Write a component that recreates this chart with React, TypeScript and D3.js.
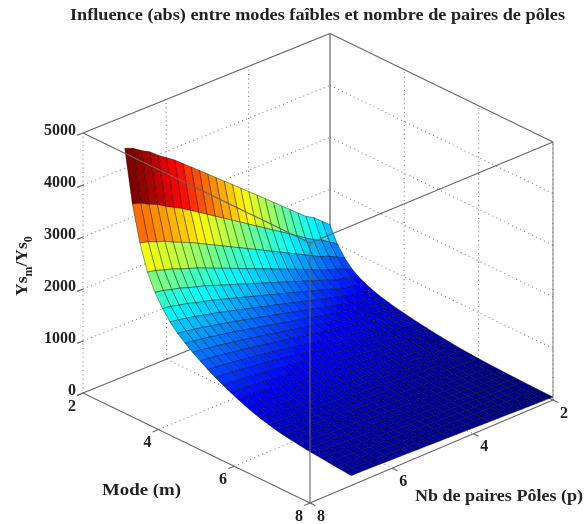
import React from "react";
import * as d3 from "d3";

const title = "Influence (abs) entre modes faîbles et nombre de paires de pôles";
const modeTicks = [2, 4, 6, 8];
const poleTicks = [2, 4, 6, 8];
const zTicks = [0, 1000, 2000, 3000, 4000, 5000];
const modeValues = d3.range(0, 31).map((i) => 2 + i * 0.2);
const poleValues = d3.range(0, 26).map((i) => 2 + i * 0.2);
// Ys_m/Ys_0 along the p = 7 edge, one value per mode step
const edgeProfile = [4385, 3380, 2700, 2210, 1890, 1650, 1460, 1310, 1190, 1085, 990, 895, 815, 740, 670, 605, 545, 490, 445, 405, 370, 340, 315, 295, 275, 260, 245, 230, 215, 205, 190];
// share of that edge reached at each pole step
const poleShare = [0.30, 0.33, 0.36, 0.38, 0.41, 0.44, 0.47, 0.50, 0.53, 0.56, 0.59, 0.62, 0.65, 0.68, 0.71, 0.74, 0.77, 0.80, 0.83, 0.86, 0.885, 0.91, 0.94, 0.96, 0.985, 1.0];

const W = 585, H = 524;
type P = [number, number];
// quad order: back, right, front, left
const floorQuad: P[] = [[330, 293], [553, 400], [310, 503], [83, 393]];
const topQuad: P[] = [[330, 33.5], [553, 142], [310, 243], [83, 133]];

function homography(q: P[]) {
  const [[x0, y0], [x1, y1], [x2, y2], [x3, y3]] = q;
  const dx1 = x1 - x2, dx2 = x3 - x2, sx = x0 - x1 + x2 - x3;
  const dy1 = y1 - y2, dy2 = y3 - y2, sy = y0 - y1 + y2 - y3;
  const den = dx1 * dy2 - dx2 * dy1;
  const g = (sx * dy2 - dx2 * sy) / den, h = (dx1 * sy - sx * dy1) / den;
  const a = x1 - x0 + g * x1, b = x3 - x0 + h * x3;
  const d = y1 - y0 + g * y1, e = y3 - y0 + h * y3;
  return (u: number, v: number): P => {
    const w = g * u + h * v + 1;
    return [(a * u + b * v + x0) / w, (d * u + e * v + y0) / w];
  };
}
const floorMap = homography(floorQuad);
const topMap = homography(topQuad);
const uScale = d3.scaleLinear().domain([2, 8]).range([0, 1]);
const vScale = d3.scaleLinear().domain([2, 8]).range([0, 1]);
const wScale = d3.scaleLinear().domain([0, 5000]).range([0, 1]);
function project(m: number, p: number, z: number): P {
  const u = uScale(m), v = vScale(p), w = wScale(z);
  const a = floorMap(u, v), b = topMap(u, v);
  return [a[0] + (b[0] - a[0]) * w, a[1] + (b[1] - a[1]) * w];
}
const zAt = (i: number, j: number) => edgeProfile[i] * poleShare[j];
const zMax = d3.max(edgeProfile)! * d3.max(poleShare)!;
const zMin = d3.min(edgeProfile)! * d3.min(poleShare)!;
const t = d3.scaleLinear().domain([zMin, zMax]).range([0, 1]);
const jet = d3.scaleLinear<string>()
  .domain([0, 0.125, 0.375, 0.625, 0.875, 1])
  .range(["#000080", "#0000ff", "#00ffff", "#ffff00", "#ff0000", "#800000"]);
const line = d3.line();
const gridColor = "#808080";
const boxColor = "#666";
const serif = "'Liberation Serif', serif";

function Dotted({ a, b }: { a: P; b: P }) {
  return <path d={line([a, b])!} stroke={gridColor} strokeWidth={1.1} strokeDasharray="1 3.4" fill="none" />;
}
function Solid({ a, b, w = 1.1 }: { a: P; b: P; w?: number }) {
  return <path d={line([a, b])!} stroke={boxColor} strokeWidth={w} fill="none" />;
}

const labelStyle: React.CSSProperties = { fontFamily: serif, fontWeight: 700, fill: "#222" };

export default function App() {
  const cells: React.ReactNode[] = [];
  for (let i = 0; i < modeValues.length - 1; i++) {
    for (let j = 0; j < poleValues.length - 1; j++) {
      const pts: P[] = [
        project(modeValues[i], poleValues[j], zAt(i, j)),
        project(modeValues[i + 1], poleValues[j], zAt(i + 1, j)),
        project(modeValues[i + 1], poleValues[j + 1], zAt(i + 1, j + 1)),
        project(modeValues[i], poleValues[j + 1], zAt(i, j + 1)),
      ];
      cells.push(
        <path key={`${i}-${j}`} d={line(pts)! + "Z"} fill={jet(t(zAt(i, j + 1)))} stroke="#000" strokeOpacity={0.6} strokeWidth={0.65} strokeLinejoin="round" />
      );
    }
  }
  return (
    <svg width={W} height={H} viewBox={`0 0 ${W} ${H}`} style={{ position: "absolute", left: 0, top: 0, background: "#fff" }}>
      <defs>
        <filter id="soft" x="0" y="0" width="100%" height="100%">
          <feGaussianBlur stdDeviation={0.35} />
        </filter>
      </defs>
      <g filter="url(#soft)">
        {/* floor grid */}
        {[4, 6].map((m) => <Dotted key={"fm" + m} a={project(m, 2, 0)} b={project(m, 8, 0)} />)}
        {[4, 6].map((p) => <Dotted key={"fp" + p} a={project(2, p, 0)} b={project(8, p, 0)} />)}
        {/* wall grid */}
        {zTicks.slice(1, 5).map((z) => (
          <g key={"wz" + z}>
            <Dotted a={project(2, 8, z)} b={project(2, 2, z)} />
            <Dotted a={project(2, 2, z)} b={project(8, 2, z)} />
          </g>
        ))}
        {[4, 6].map((p) => <Dotted key={"wp" + p} a={project(2, p, 0)} b={project(2, p, 5000)} />)}
        {[4, 6].map((m) => <Dotted key={"wm" + m} a={project(m, 2, 0)} b={project(m, 2, 5000)} />)}
        <Dotted a={project(2, 8, 0)} b={project(2, 8, 5000)} />
        <Dotted a={project(8, 2, 0)} b={project(8, 2, 5000)} />
        {/* back edges */}
        <Solid a={project(2, 2, 0)} b={project(2, 2, 5000)} w={1.2} />
        <Solid a={project(2, 2, 0)} b={project(2, 8, 0)} />
        <Solid a={project(2, 2, 0)} b={project(8, 2, 0)} />
        <Solid a={project(2, 2, 5000)} b={project(2, 8, 5000)} />
        <Solid a={project(2, 2, 5000)} b={project(8, 2, 5000)} />
        <Solid a={project(8, 2, 0)} b={project(8, 2, 5000)} w={0.8} />
        {/* front floor edges */}
        <Solid a={project(2, 8, 0)} b={project(8, 8, 0)} />
        <Solid a={project(8, 8, 0)} b={project(8, 2, 0)} />
        {cells}
        {/* front box edges over the surface */}
        <Solid a={project(8, 8, 0)} b={project(8, 8, 5000)} />
        <Solid a={project(2, 8, 5000)} b={project(8, 8, 5000)} />
        <Solid a={project(8, 8, 5000)} b={project(8, 2, 5000)} />
        {/* ticks */}
        {zTicks.map((z) => <Solid key={"tz" + z} a={project(2, 8, z)} b={project(2, 8.14, z)} />)}
        {modeTicks.map((m) => <Solid key={"tm" + m} a={project(m, 8, 0)} b={project(m, 8.14, 0)} />)}
        {poleTicks.map((p) => <Solid key={"tp" + p} a={project(8, p, 0)} b={project(8.14, p, 0)} />)}
        {/* tick labels */}
        {zTicks.map((z) => {
          const [x, y] = project(2, 8, z);
          return <text key={"lz" + z} x={x - 7} y={y + 1.5} textAnchor="end" fontSize={16} style={labelStyle}>{z}</text>;
        })}
        {modeTicks.map((m) => {
          const [x, y] = project(m, 8, 0);
          return <text key={"lm" + m} x={x - 11} y={y + 17.5} textAnchor="middle" fontSize={16} style={labelStyle}>{m}</text>;
        })}
        {poleTicks.map((p) => {
          const [x, y] = project(8, p, 0);
          return <text key={"lp" + p} x={x + 11} y={y + 17.5} textAnchor="middle" fontSize={16} style={labelStyle}>{p}</text>;
        })}
        {/* titles */}
        <text x={70} y={20} fontSize={16} textLength={495} lengthAdjust="spacingAndGlyphs" style={labelStyle}>{title}</text>
        <text x={102} y={495} fontSize={17} textLength={79} lengthAdjust="spacingAndGlyphs" style={labelStyle}>Mode  (m)</text>
        <text x={415} y={501} fontSize={17} textLength={168} lengthAdjust="spacingAndGlyphs" style={labelStyle}>Nb de paires Pôles (p)</text>
        <text transform="translate(27,296) rotate(-90)" fontSize={17.5} style={labelStyle}>
          Ys<tspan fontSize={12} dy={5}>m</tspan><tspan dy={-5}>/Ys</tspan><tspan fontSize={12} dy={5}>0</tspan>
        </text>
      </g>
    </svg>
  );
}
